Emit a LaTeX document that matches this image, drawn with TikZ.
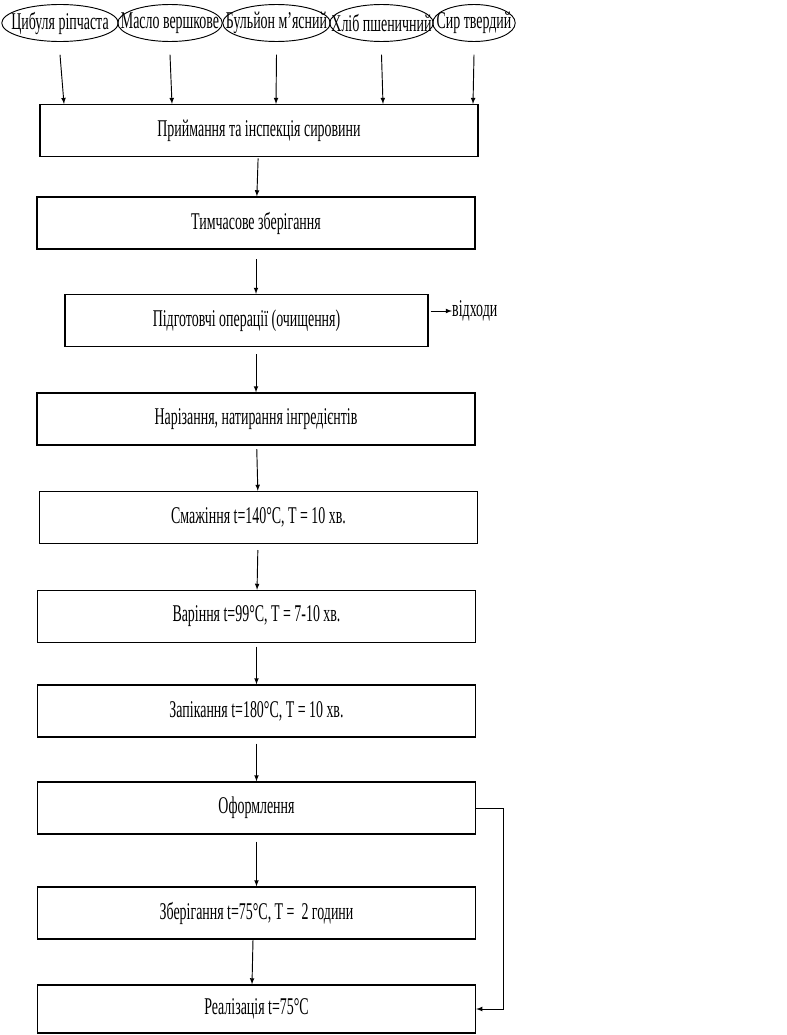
\documentclass[tikz,border=0pt]{standalone}
\usepackage{fontspec}
\setmainfont{Liberation Serif}[FakeStretch=0.58]
\usepackage{tikz}
\usetikzlibrary{calc}
\tikzset{
    step-box/.style = {draw, line width=1.1pt, rectangle, minimum width=13.14cm, minimum height=1.56cm, font=\fontsize{20.5}{22}\selectfont},
    input-oval/.style = {inner sep=0pt, minimum height=1.11cm, font=\fontsize{20.5}{22}\selectfont},
    oval-line/.style = {line width=0.8pt},
    flow/.style = {-latex, line width=0.8pt},
}

\begin{document}
\begin{tikzpicture}[x=0.03cm,y=-0.03cm]
\useasboundingbox (0,0) rectangle (787,1035);
% inputs
\node [input-oval, minimum width=3.48cm] (onion) at (60,23) {Цибуля ріпчаста};
\node [input-oval, minimum width=3.12cm] (butter) at (170,23) {Масло вершкове};
\node [input-oval, minimum width=3.21cm] (broth) at (276.5,23) {Бульйон м'ясний};
\node [input-oval, minimum width=3.09cm] (bread) at (381.5,23) {Хліб пшеничний};
\node [input-oval, minimum width=2.46cm] (cheese) at (474,23) {Сир твердий};
\foreach \oval in {onion, butter, broth, bread, cheese}
    \draw [oval-line] let \p1 = ($(\oval.east)-(\oval.west)$) in
        (\oval.center) ellipse [x radius=0.5*\x1, y radius=0.555cm];
% process steps
\node [step-box] (intake) at (259,130.5) {Приймання та інспекція сировини};
\node [step-box] (storage) at (256,223) {Тимчасове зберігання};
\node [step-box, minimum width=10.89cm] (prep) at (246.5,320.5) {Підготовчі операції (очищення)};
\node [step-box] (cutting) at (256,419) {Нарізання, натирання інгредієнтів};
\node [step-box] (frying) at (258.5,517.5) {Смажіння t=140°C, T = 10 хв.};
\node [step-box] (boiling) at (256.5,616.5) {Варіння t=99°C, T = 7-10 хв.};
\node [step-box] (baking) at (256.5,711) {Запікання t=180°C, T = 10 хв.};
\node [step-box] (decor) at (256.5,808) {Оформлення};
\node [step-box] (keeping) at (256.5,913) {Зберігання t=75°C, T =~ 2 години};
\node [step-box, minimum height=1.44cm] (sale) at (256.5,1009) {Реалізація t=75°C};
\node [anchor=west, inner sep=0pt, font=\fontsize{20.5}{22}\selectfont] (waste) at (452,311) {відходи};
% arrows
\foreach \src/\xx in {onion/64, butter/172, broth/276, bread/383, cheese/473}
    \draw [flow] ($(\src.south)+(0,13)$) -- (\xx,104);
\draw [flow, shorten <=1pt] (intake) -- (storage);
\draw [flow, shorten <=8pt] (storage) -- (prep.north -| storage.south);
\draw [flow, shorten <=6pt] (prep.south -| cutting.north) -- (cutting);
\draw [flow, shorten <=3pt] (cutting) -- (frying);
\draw [flow, shorten <=5pt] (frying) -- (boiling);
\draw [flow, shorten <=3pt] (boiling) -- (baking);
\draw [flow, shorten <=5pt] (baking) -- (decor);
\draw [flow, shorten <=6pt] (decor) -- (keeping);
\draw [flow] ($(keeping.south)+(-3.5,0)$) -- ($(sale.north)+(-4.5,0)$);
\draw [flow] ($(prep.east |- waste.west)+(2,0)$) -- (waste.west);
\draw [flow] (decor.east) -- ++(27,0) |- (sale.east);
\end{tikzpicture}
\end{document}
